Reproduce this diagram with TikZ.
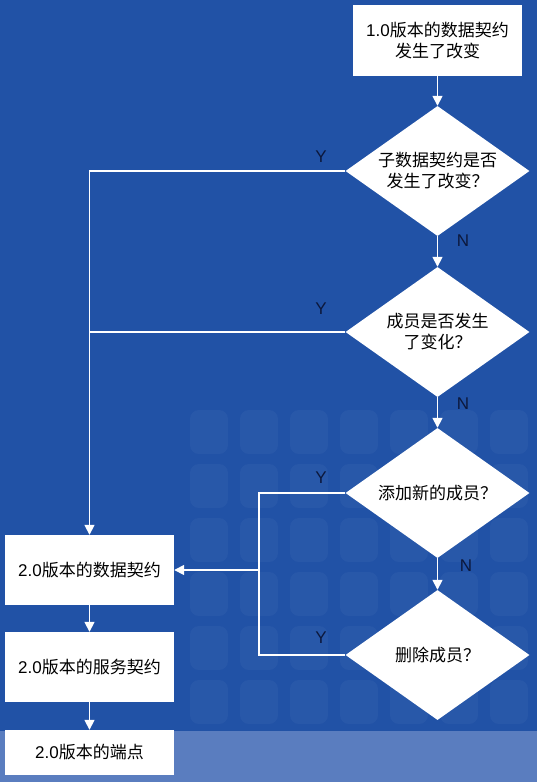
\documentclass[tikz,border=0pt]{standalone}
\usepackage{fontspec}
\setmainfont{Liberation Sans}
\newfontfamily\cjk{Noto Sans CJK SC}
\usetikzlibrary{shapes.geometric,arrows.meta}
\definecolor{bgblue}{RGB}{33,82,166}
\definecolor{bandblue}{RGB}{110,140,200}
\definecolor{labelblue}{RGB}{12,24,60}
\tikzset{
	box/.style={fill=white,minimum width=169pt,minimum height=70pt,inner sep=2pt,align=center,font=\fontsize{17}{21}\selectfont},
	decision/.style={diamond,fill=white,shape aspect=1.4,minimum width=184pt,minimum height=130pt,inner sep=0pt,align=center,font=\fontsize{17}{21}\selectfont},
	flow/.style={draw=white,line width=1.6pt},
	arr/.style={-{Triangle[width=10pt,length=10pt]}},
	yn/.style={text=labelblue,font=\fontsize{17}{17}\selectfont},
}

\begin{document}
\begin{tikzpicture}[x=1pt,y=-1pt]
	% background and its faint pattern
	\fill[bgblue] (0,0) rectangle (537,782);
	\useasboundingbox (0,0) rectangle (537,782);
	\foreach \i in {0,...,6}
		\foreach \j in {0,...,5}
			\fill[white,opacity=0.035,rounded corners=9pt] ({190+\i*50},{410+\j*54}) rectangle +(38,44);
	\fill[bandblue,opacity=0.75] (0,731) rectangle (537,782);
	
	% the old contract and the questions
	\node[box,minimum height=71pt] (v1) at (437.5,40.5) {1.0{\cjk 版本的数据契约}\\{\cjk 发生了改变}};
	\node[decision] (q1) at (437.5,171) {{\cjk 子数据契约是否}\\{\cjk 发生了改变？}};
	\node[decision] (q2) at (437.5,332) {{\cjk 成员是否发生}\\{\cjk 了变化？}};
	\node[decision] (q3) at (437.5,493) {{\cjk 添加新的成员？}};
	\node[decision] (q4) at (437.5,655) {{\cjk 删除成员？}};
	
	% the new versions
	\node[box] (d2) at (89.5,570) {2.0{\cjk 版本的数据契约}};
	\node[box] (s2) at (89.5,667) {2.0{\cjk 版本的服务契约}};
	\node[box,minimum height=45pt] (e2) at (89.5,752.5) {2.0{\cjk 版本的端点}};
	
	% N branches
	\draw[flow,arr] (v1) -- (q1);
	\draw[flow,arr] (q1) -- (q2);
	\draw[flow,arr] (q2) -- (q3);
	\draw[flow,arr] (q3) -- (q4);
	
	% Y branches
	\coordinate (rail) at (259,493);
	\draw[flow,arr] (q1.west) -| (d2.north);
	\draw[flow] (q2.west) -- (q2.west -| d2.north);
	\draw[flow] (q3.west) -- (rail) |- (q4.west);
	\draw[flow,arr] (rail |- d2.east) -- (d2.east);
	
	% down to the end point
	\draw[flow,arr] (d2) -- (s2);
	\draw[flow,arr] (s2) -- (e2);
	
	% labels
	\node[yn] (y1) at (321,157) {Y};
	\node[yn] (y2) at (321,309) {Y};
	\node[yn] (y3) at (321,478) {Y};
	\node[yn] (y4) at (321,638) {Y};
	\node[yn] (n1) at (463,241) {N};
	\node[yn] (n2) at (463,404) {N};
	\node[yn] (n3) at (466,566) {N};
\end{tikzpicture}
\end{document}
